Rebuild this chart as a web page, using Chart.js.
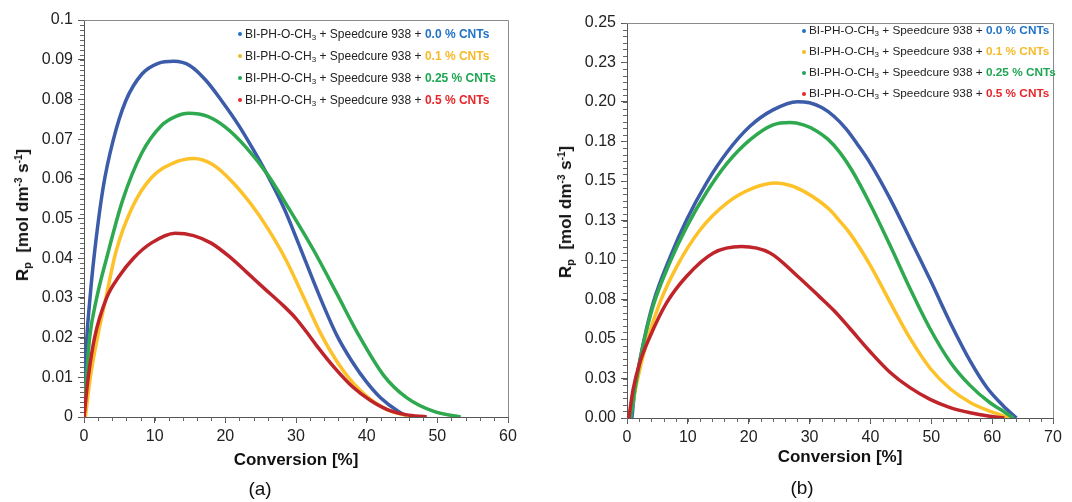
<!DOCTYPE html>
<html>
<head>
<meta charset="utf-8">
<script src="https://cdn.jsdelivr.net/npm/chart.js@4/dist/chart.umd.min.js"></script>
<style>
  body { margin: 0; background: #fff; font-family: "Liberation Sans", Arial, sans-serif; }
  #wrap { position: relative; width: 1072px; height: 502px; overflow: hidden; }
  canvas { position: absolute; top: 0; }
  .ytitle { position: absolute; transform: translate(-50%, -50%) rotate(-90deg); white-space: nowrap;
            font-weight: bold; font-size: 17px; color: #111; }
  .ytitle sub { font-size: 11px; vertical-align: -3px; }
  .ytitle sup { font-size: 10px; vertical-align: 6px; }
  .legend { position: absolute; color: #222; white-space: nowrap; }
  .legend .row { position: relative; }
  .legend .dot { position: absolute; left: -7px; width: 4px; height: 4px; border-radius: 50%; }
  .legend sub { font-size: 8px; vertical-align: -2px; line-height: 0; }
  #legA { font-size: 12px; }
  #legA .row { height: 22px; line-height: 22px; }
  #legA .dot { top: 9px; }
  #legB { font-size: 11.8px; }
  #legB .row { height: 21px; line-height: 21px; }
  #legB .dot { top: 8.5px; }
  .cap { position: absolute; font-size: 19px; color: #111; transform: translate(-50%, -50%); }
</style>
</head>
<body>
<div id="wrap">
  <canvas id="chartA" width="540" height="502" style="left:0"></canvas>
  <canvas id="chartB" width="532" height="502" style="left:540px"></canvas>
  <div class="ytitle" style="left:23px;top:215px">R<sub>p</sub>&nbsp; [mol dm<sup>-3</sup> s<sup>-1</sup>]</div>
  <div class="ytitle" style="left:566px;top:212px">R<sub>p</sub>&nbsp; [mol dm<sup>-3</sup> s<sup>-1</sup>]</div>
  <div class="legend" id="legA" style="left:245px;top:23px"></div>
  <div class="legend" id="legB" style="left:809px;top:20px"></div>
  <div class="cap" style="left:260px;top:489px">(a)</div>
  <div class="cap" style="left:802px;top:488px">(b)</div>
</div>
<script>
// series labels
const baseLabel = 'BI-PH-O-CH<sub>3</sub> + Speedcure 938 + ';
const loadings = ['0.0 % CNTs', '0.1 % CNTs', '0.25 % CNTs', '0.5 % CNTs'];
const lineColors = ['#3c5ba8', '#fdc22a', '#2ea94f', '#c0242b'];
const textColors = ['#1f72c6', '#f7b928', '#1fa653', '#e8262b'];

// tick labels
const xLabelsA = ['0', '10', '20', '30', '40', '50', '60'];
const yLabelsA = ['0', '0.01', '0.02', '0.03', '0.04', '0.05', '0.06', '0.07', '0.08', '0.09', '0.1'];
const xLabelsB = ['0', '10', '20', '30', '40', '50', '60', '70'];
const yLabelsB = ['0.00', '0.03', '0.05', '0.08', '0.10', '0.13', '0.15', '0.18', '0.20', '0.23', '0.25'];

// (a) conversion [%] and Rp values
const a00x = [0, 0.15, 0.4, 0.85, 1.4, 2.7, 4.1, 5.9, 8.2, 10.5, 12.7, 15, 17.3, 19.5, 21.8, 24, 26, 28.4, 30.4, 33.2, 35.8, 38, 40, 42, 44.5, 46];
const a00y = [0, 0.010, 0.020, 0.030, 0.040, 0.0577, 0.0695, 0.0796, 0.0864, 0.0891, 0.0896, 0.0885, 0.0847, 0.0796, 0.0737, 0.0672, 0.0608, 0.0522, 0.0435, 0.031, 0.0205, 0.0138, 0.0088, 0.0048, 0.0014, 0];
const a01x = [0.2, 0.9, 1.9, 3.1, 4.5, 6.8, 9.5, 12.7, 15.5, 18.2, 20.9, 23.6, 26, 28.6, 31, 33.5, 35.5, 37.5, 40.5, 43.5, 47];
const a01y = [0, 0.010, 0.020, 0.030, 0.0415, 0.0527, 0.0602, 0.064, 0.0651, 0.0636, 0.0594, 0.0537, 0.0475, 0.0395, 0.0305, 0.021, 0.0148, 0.0098, 0.0045, 0.0014, 0];
const a025x = [0, 0.35, 0.8, 1.8, 3.2, 5.45, 8.18, 10.9, 13, 14.8, 17.5, 20, 23, 26, 29, 32.5, 35.8, 38.6, 42.4, 45.7, 49.5, 53.3];
const a025y = [0, 0.010, 0.020, 0.030, 0.040, 0.0545, 0.0665, 0.0733, 0.0757, 0.0765, 0.0757, 0.073, 0.0678, 0.061, 0.0525, 0.042, 0.031, 0.0215, 0.0105, 0.0048, 0.0014, 0];
const a05x = [0, 0.6, 1.5, 3.2, 5, 7, 9.5, 12.9, 15.5, 18, 20.5, 23, 25.5, 28, 30, 31.5, 33, 35.5, 38, 40.5, 43, 45.5, 48.5];
const a05y = [0, 0.010, 0.020, 0.030, 0.0355, 0.040, 0.0438, 0.0463, 0.0457, 0.0438, 0.0405, 0.0365, 0.0324, 0.0284, 0.0248, 0.0214, 0.0178, 0.0123, 0.0076, 0.0042, 0.0018, 0.0006, 0];

// (b) conversion [%] and Rp values
const b00x = [0.8, 1.3, 2.7, 4.3, 7.1, 9.8, 13.1, 16.4, 20.2, 24, 28, 30, 32, 34, 36, 38, 40, 43.2, 46.5, 49.8, 53.1, 56.4, 59.1, 61.8, 64];
const b00y = [0, 0.018, 0.0475, 0.0728, 0.102, 0.1255, 0.149, 0.168, 0.1846, 0.195, 0.2002, 0.1995, 0.1965, 0.191, 0.183, 0.1725, 0.161, 0.139, 0.1135, 0.0876, 0.0605, 0.036, 0.0195, 0.0078, 0];
const b01x = [0.5, 1.6, 3.2, 5.4, 8.2, 12, 16.4, 20.8, 24.5, 27, 29.5, 31.5, 33.4, 35, 36.6, 40, 43.2, 46.5, 49.8, 53.1, 56.4, 59.6, 63];
const b01y = [0, 0.022, 0.0475, 0.073, 0.096, 0.119, 0.136, 0.1456, 0.1487, 0.147, 0.1425, 0.1375, 0.1315, 0.1245, 0.117, 0.0965, 0.0735, 0.0505, 0.0315, 0.0185, 0.0098, 0.0043, 0];
const b025x = [0.6, 1.3, 2.7, 4.3, 7.1, 9.8, 13.1, 16.4, 20.2, 24, 26.8, 29, 31, 33, 35, 37, 40, 43.2, 46.5, 49.8, 53.1, 56.4, 59.6, 62, 63.5];
const b025y = [0, 0.018, 0.047, 0.071, 0.099, 0.121, 0.143, 0.161, 0.176, 0.1855, 0.187, 0.1855, 0.182, 0.1765, 0.168, 0.1565, 0.135, 0.1095, 0.082, 0.0565, 0.0355, 0.0205, 0.0098, 0.0038, 0];
const b05x = [0.3, 1.0, 2.1, 3.8, 6.5, 9.8, 14.2, 18.8, 23.5, 27.9, 31.7, 34, 36.6, 40, 43.2, 46.5, 49.8, 53.1, 56.4, 59.6, 62];
const b05y = [0, 0.018, 0.035, 0.0517, 0.0728, 0.0897, 0.1044, 0.1085, 0.1044, 0.0902, 0.0765, 0.068, 0.0568, 0.0418, 0.029, 0.0192, 0.0118, 0.0066, 0.0033, 0.0011, 0];

function pts(xs, ys) { return xs.map((x, i) => ({x: x, y: ys[i]})); }

function makeLegend(id) {
  let html = '';
  loadings.forEach((l, i) => {
    html += '<div class="row"><span class="dot" style="background:' + textColors[i] + '"></span>' +
      baseLabel + '<b style="color:' + textColors[i] + '">' + l + '</b></div>';
  });
  document.getElementById(id).innerHTML = html;
}
makeLegend('legA');
makeLegend('legB');

// minor tick marks + top/right frame
const minorTicks = {
  id: 'minorTicks',
  afterDraw(chart, args, opts) {
    const {ctx, chartArea: a, scales: {x, y}} = chart;
    ctx.save();
    ctx.strokeStyle = '#666';
    ctx.lineWidth = 1;
    ctx.beginPath();
    for (let v = x.min; v <= x.max + 1e-9; v += opts.x) {
      const p = Math.round(x.getPixelForValue(v)) + 0.5;
      ctx.moveTo(p, a.bottom); ctx.lineTo(p, a.bottom + 4);
    }
    for (let v = y.min; v <= y.max + 1e-9; v += opts.y) {
      const p = Math.round(y.getPixelForValue(v)) + 0.5;
      ctx.moveTo(a.left, p); ctx.lineTo(a.left - 4, p);
    }
    ctx.stroke();
    ctx.strokeStyle = '#8a8a8a';
    ctx.beginPath();
    ctx.moveTo(a.left, a.top + 0.5); ctx.lineTo(a.right + 0.5, a.top + 0.5); ctx.lineTo(a.right + 0.5, a.bottom);
    ctx.stroke();
    ctx.restore();
  }
};

function makeChart(id, series, xMax, yMax, yStep, xLabels, yLabels, yWidth, xHeight, pad, minor) {
  return new Chart(document.getElementById(id), {
    type: 'line',
    data: {
      datasets: series.map((s, i) => ({
        label: loadings[i],
        data: pts(s[0], s[1]),
        borderColor: lineColors[i],
        backgroundColor: lineColors[i],
        borderWidth: 3.5,
        pointRadius: 0,
        cubicInterpolationMode: 'monotone',
        fill: false
      })).reverse()
    },
    options: {
      responsive: false,
      animation: false,
      devicePixelRatio: 1,
      layout: { padding: pad },
      plugins: { legend: { display: false }, tooltip: { enabled: false }, minorTicks: minor },
      scales: {
        x: {
          type: 'linear', min: 0, max: xMax,
          afterFit: s => { s.height = xHeight; },
          grid: { drawOnChartArea: false, tickLength: 6, tickColor: '#555' },
          border: { color: '#555', width: 1 },
          ticks: { stepSize: 10, padding: 4, color: '#222', font: { family: 'Liberation Sans', size: 16 },
                   callback: (v, i) => xLabels[i] },
          title: { display: true, text: 'Conversion [%]', color: '#111',
                   font: { family: 'Liberation Sans', size: 17, weight: 'bold' }, padding: { top: 4, bottom: 4 } }
        },
        y: {
          type: 'linear', min: 0, max: yMax,
          afterFit: s => { s.width = yWidth; },
          grid: { drawOnChartArea: false, tickLength: 6, tickColor: '#555' },
          border: { color: '#555', width: 1 },
          ticks: { stepSize: yStep, padding: 5, color: '#222', font: { family: 'Liberation Sans', size: 16 },
                   callback: (v, i) => yLabels[i] }
        }
      }
    },
    plugins: [minorTicks]
  });
}

makeChart('chartA', [[a00x, a00y], [a01x, a01y], [a025x, a025y], [a05x, a05y]],
  60, 0.1, 0.01, xLabelsA, yLabelsA, 84, 58, { left: 0, right: 32, top: 20, bottom: 27 }, { x: 2, y: 0.00125 });
makeChart('chartB', [[b00x, b00y], [b01x, b01y], [b025x, b025y], [b05x, b05y]],
  70, 0.25, 0.025, xLabelsB, yLabelsB, 87, 54, { left: 0, right: 19, top: 23, bottom: 30 }, { x: 2, y: 0.025 / 6 });
</script>
</body>
</html>
